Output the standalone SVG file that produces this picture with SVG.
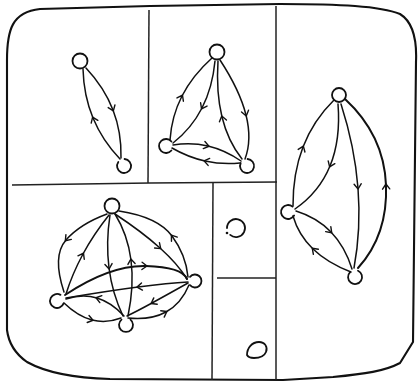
<svg xmlns="http://www.w3.org/2000/svg" width="418" height="384" viewBox="0 0 418 384">
<style>
.b{fill:none;stroke:#111;stroke-width:2.1;stroke-linejoin:round}
.d{fill:none;stroke:#222;stroke-width:1.5}
.n{fill:none;stroke:#111;stroke-width:1.8;stroke-linecap:round}
.e{fill:none;stroke:#111;stroke-width:1.5;stroke-linecap:round;marker-mid:url(#ah)}
.t{stroke-width:2}
</style>
<defs>
<marker id="ah" viewBox="-6 -6 12 12" markerWidth="12" markerHeight="12" markerUnits="userSpaceOnUse" orient="auto" refX="0" refY="0">
<path d="M-4 -3.6 L1 0 L-4 3.6" fill="none" stroke="#111" stroke-width="1.4" stroke-linecap="round" stroke-linejoin="round"/>
</marker>
</defs>
<rect width="418" height="384" fill="#fff"/>
<g id="frame">
<path class="b" d="M7 330 L7 60 C7 30 12 12 40 9 L150 6 L280 4 C340 4 380 6 400 14 C413 22 417 40 416 62 L413 342 L400 363 C385 371 365 374 333 377 L283 380 L110 379 C75 378 45 372 27 362 C17 355 9 346 7 330 Z"/>
<path class="d" d="M149 10 L148 183"/>
<path class="d" d="M12 185 L150 183 L277 182"/>
<path class="d" d="M276 6 L276 380"/>
<path class="d" d="M213 183 L212 380"/>
<path class="d" d="M217 278 L276 278"/>
</g>
<g id="edges">
<path class="e" d="M86 68 Q104.3 87.5 113 110 T121 158"/>
<path class="e" d="M120 159 Q102.3 140.5 93 118 T83 69"/>
<path class="e" d="M170 140 Q171.5 116.5 182 96 T212 58"/>
<path class="e" d="M215 61 Q212.5 87.5 202 108 T173 143"/>
<path class="e" d="M242 159 Q228 141.5 222 117 T218 61"/>
<path class="e" d="M220 60 Q239.8 90.3 246 115 T245 159"/>
<path class="e" d="M173 145 Q191 142 208 146 T241 161"/>
<path class="e" d="M240 163 Q222 164.8 205 161 T172 148"/>
<path class="e" d="M293 206 Q292.8 173.5 303 147 T334 100"/>
<path class="e" d="M338 104 Q340.8 139.8 330 166 T295 209"/>
<path class="e" d="M341 104 Q354.8 147 358 188 T354 268"/>
<path class="e t" d="M358 268 Q388 235 386 185 T345 99"/>
<path class="e" d="M296 211 Q317 217.5 331 232 T352 269"/>
<path class="e" d="M351 272 Q327.5 263 313 249 T293 216"/>
<path class="e" d="M107 214 Q80 224 66 240 T64 292"/>
<path class="e" d="M66 294 Q72.3 273.8 83 254 T109 215"/>
<path class="e" d="M188 277 Q186 255 172 236 T119 211"/>
<path class="e" d="M115 214 Q142 231.8 160 248 T187 279"/>
<path class="e" d="M110 215 Q105.8 242.8 109 268 T123 316"/>
<path class="e" d="M128 316 Q134.3 285.5 131 260 T115 214"/>
<path class="e t" d="M65 295 Q110 265 146 266 T187 279"/>
<path class="e" d="M188 282 Q168.5 283 138 287 T66 298"/>
<path class="e" d="M124 316 Q111.5 302.3 97 298 T66 299"/>
<path class="e" d="M64 303 Q77.8 316.3 92 320 T121 318"/>
<path class="e" d="M188 283 Q167 294.8 152 303 T127 316"/>
<path class="e" d="M128 318 Q150.8 320.3 166 312 T189 285"/>
</g>
<g id="p1-a"><circle class="n" cx="80" cy="61" r="7.5"/></g>
<g id="p1-b"><path class="n" d="M124.6 159 A7 7 0 1 1 118.3 162"/></g>
<g id="p2-top"><circle class="n" cx="217" cy="52" r="7.5"/></g>
<g id="p2-left"><path class="n" d="M171.4 150.5 A7 7 0 1 1 171.4 141.5"/></g>
<g id="p2-right"><path class="n" d="M247.6 159 A7 7 0 1 1 240.7 163"/></g>
<g id="p3-top"><circle class="n" cx="339" cy="95" r="7"/></g>
<g id="p3-left"><path class="n" d="M294.1 215.5 A7 7 0 1 1 292.5 206.6"/></g>
<g id="p3-bottom"><path class="n" d="M358 270.7 A7 7 0 1 1 350.1 272.1"/></g>
<g id="p4-top"><circle class="n" cx="112" cy="206" r="7.5"/></g>
<g id="p4-left"><path class="n" d="M63.6 303.4 A7 7 0 1 1 60.5 294.9"/></g>
<g id="p4-right"><path class="n" d="M190 276.8 A6.5 6.5 0 1 1 190 285.2"/></g>
<g id="p4-bottom"><path class="n" d="M130.5 319.6 A7 7 0 1 1 121.5 319.6"/></g>
<g id="p5-node"><path class="n" d="M227 228 A9 9 0 1 1 230.2 234.9"/><circle cx="227" cy="233" r="1.3" fill="#111"/></g>
<g id="p6-node"><path class="n" d="M247 355 C247 348 252 342 259 342 C265 342 268 347 266 352 C264 357 259 358 254 358 C250 358 248 357 247 355 Z"/></g>
</svg>
